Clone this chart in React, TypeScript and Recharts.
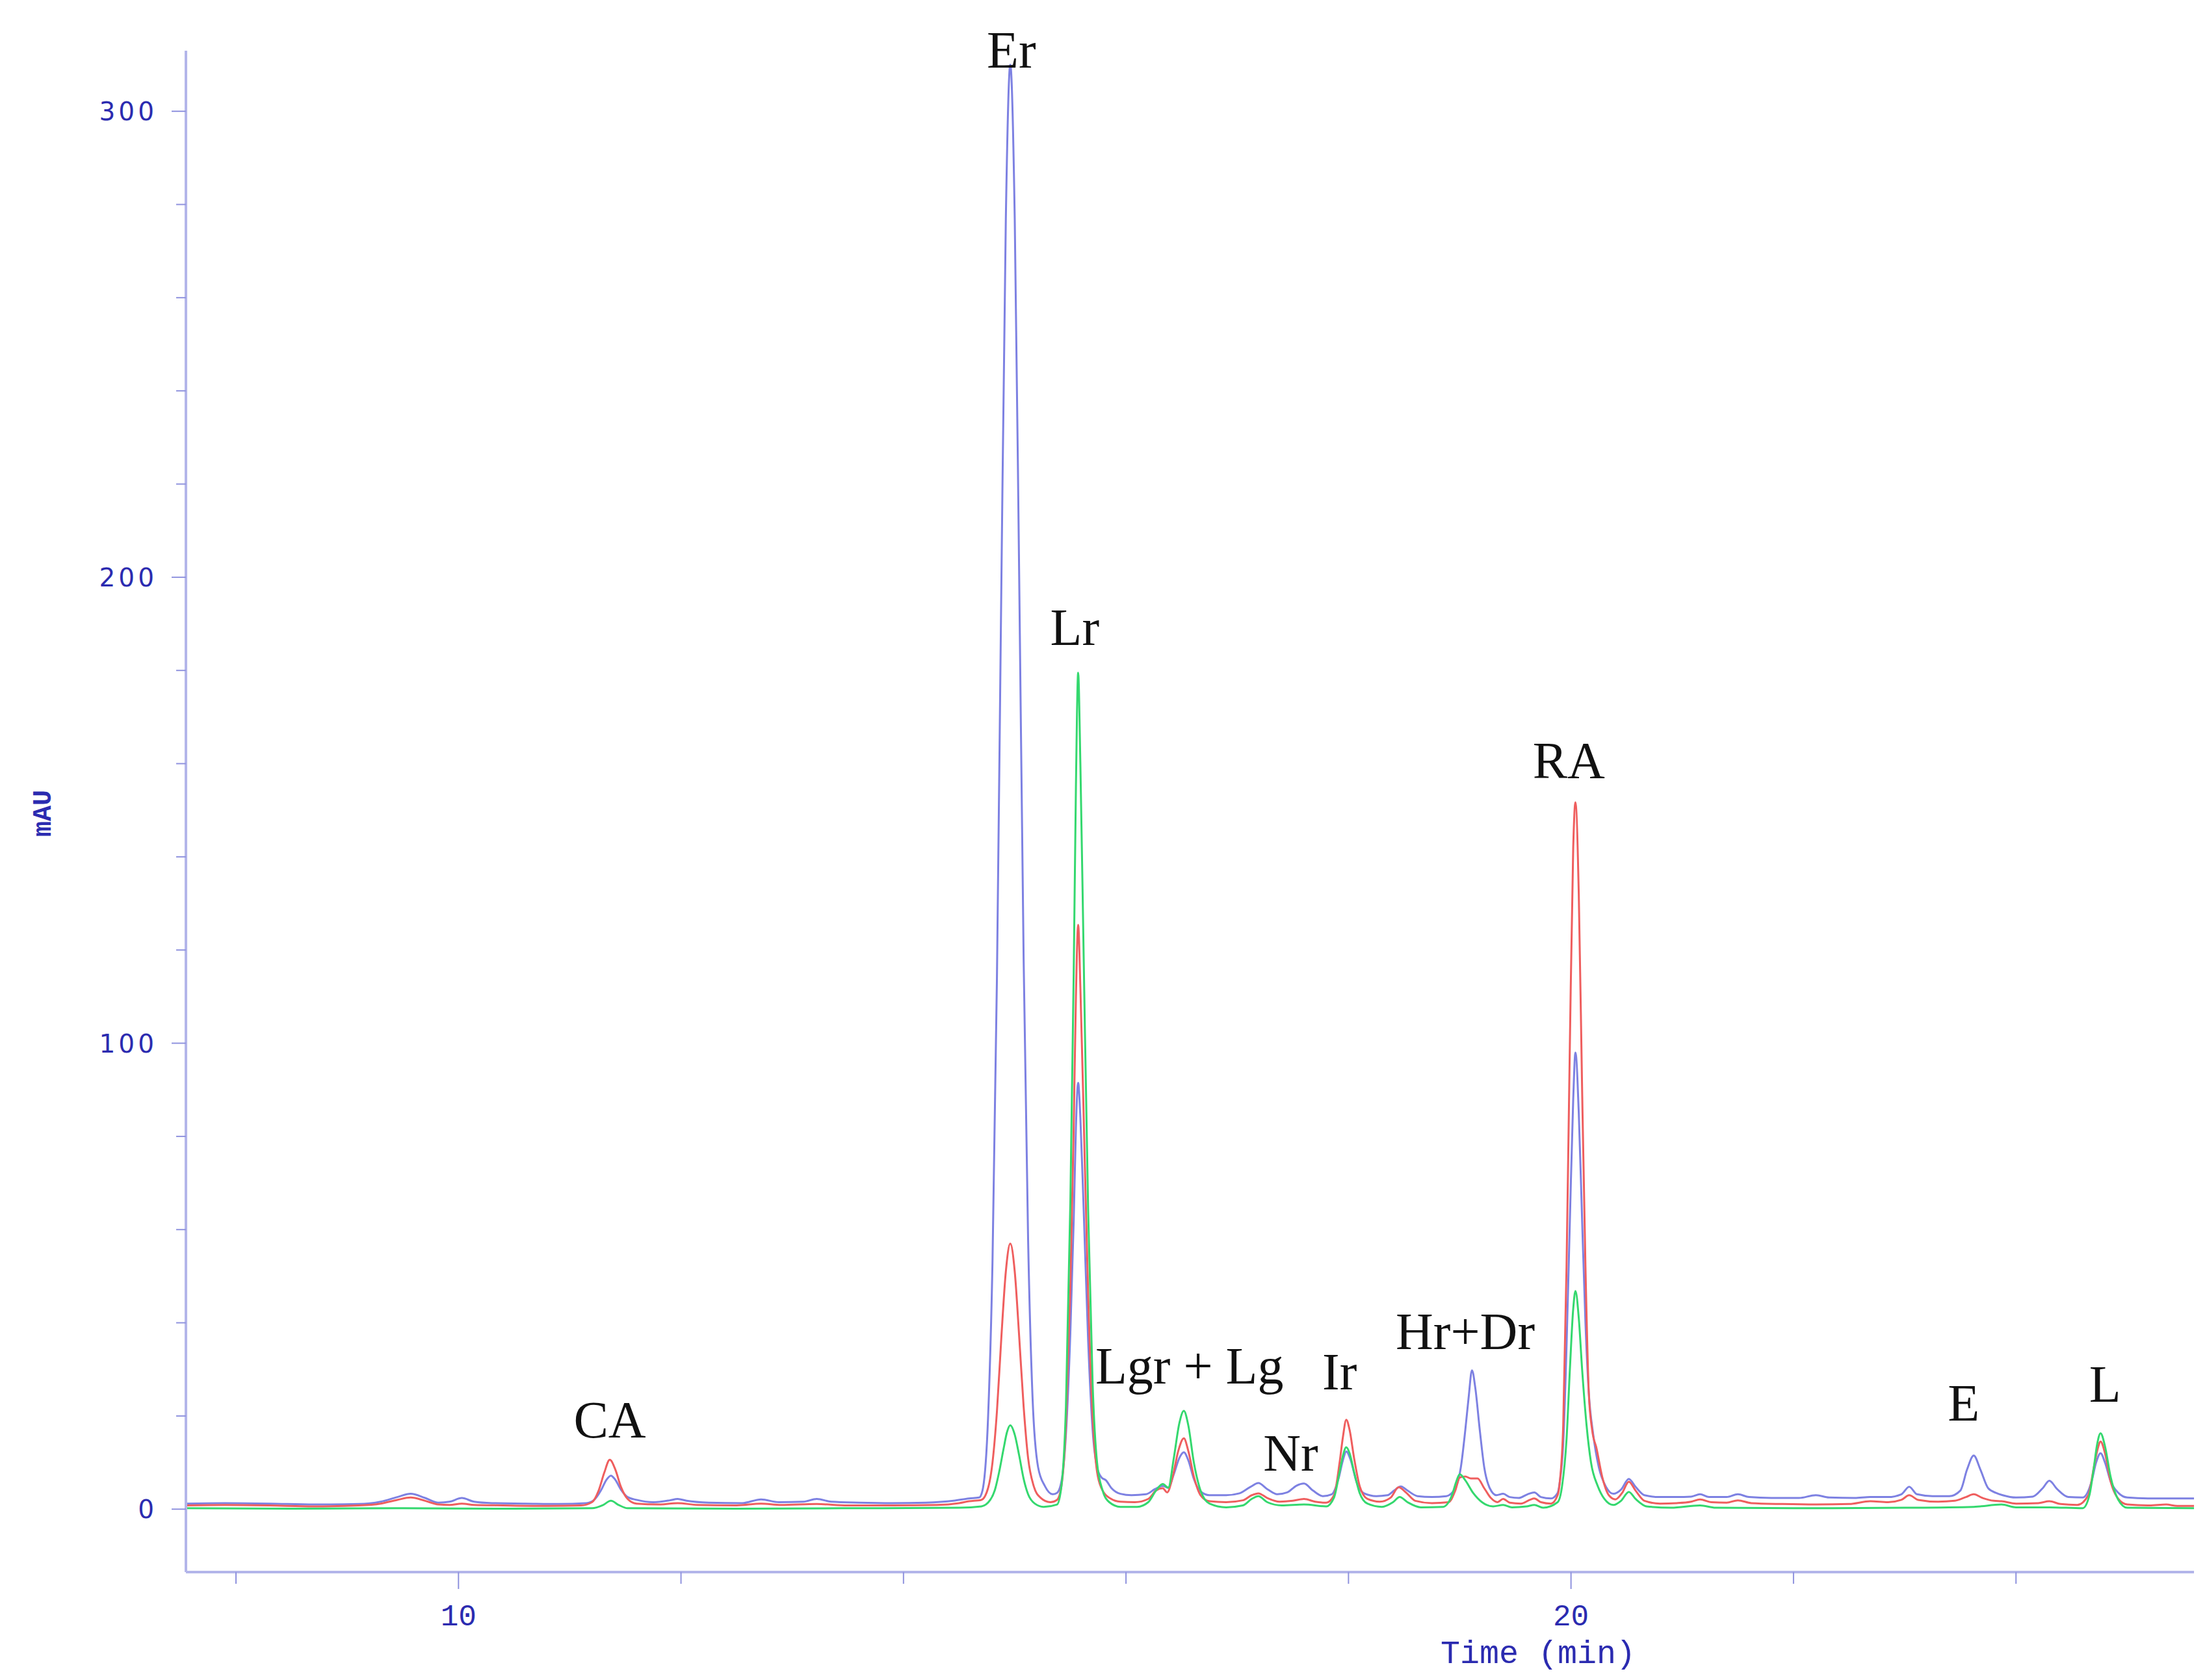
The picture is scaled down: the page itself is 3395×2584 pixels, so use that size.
import { ComposedChart, Line, Scatter, XAxis, YAxis } from "recharts";

type Pt = [number, number];

// chromatogram traces, [time (min), mAU]
const blueTrace: Pt[] = [
  [7.55, 1.2], [7.9, 1.3], [8.3, 1.2], [8.7, 1.0], [9.1, 1.1], [9.3, 1.6], [9.45, 2.6], [9.57, 3.3],
  [9.7, 2.4], [9.82, 1.4], [9.92, 1.6], [10.03, 2.4], [10.14, 1.6], [10.3, 1.3], [10.6, 1.2], [10.9, 1.1],
  [11.15, 1.3], [11.22, 2.0], [11.28, 4.0], [11.33, 6.3], [11.37, 7.2], [11.41, 6.3], [11.46, 4.2],
  [11.52, 2.6], [11.6, 2.0], [11.75, 1.5], [11.9, 1.9], [11.97, 2.2], [12.05, 1.8], [12.25, 1.4],
  [12.55, 1.3], [12.72, 2.1], [12.88, 1.5], [13.1, 1.6], [13.22, 2.2], [13.35, 1.6], [13.6, 1.4],
  [13.9, 1.3], [14.2, 1.4], [14.45, 1.8], [14.59, 2.3], [14.68, 2.5],
  [14.71, 4], [14.76, 19.5], [14.8, 53], [14.84, 114], [14.88, 199], [14.92, 277], [14.96, 310],
  [15.0, 277], [15.04, 200], [15.08, 118], [15.12, 58], [15.16, 24], [15.21, 9], [15.27, 5], [15.34, 3.2],
  [15.38, 3.5], [15.42, 6], [15.46, 16], [15.5, 38], [15.53, 62], [15.55, 82], [15.57, 91.5], [15.59, 84],
  [15.62, 64], [15.66, 36], [15.7, 17], [15.74, 9], [15.78, 6.8], [15.82, 6.2], [15.87, 4.5], [15.95, 3.3],
  [16.05, 3.0], [16.18, 3.2], [16.26, 4.3], [16.33, 5.0], [16.38, 4.6], [16.43, 7.5], [16.48, 11],
  [16.52, 12.2], [16.56, 10.5], [16.61, 6.5], [16.67, 3.8], [16.75, 3.0], [16.9, 3.0], [17.02, 3.4],
  [17.12, 4.8], [17.19, 5.6], [17.27, 4.3], [17.36, 3.2], [17.45, 3.6], [17.53, 5.0], [17.6, 5.5],
  [17.68, 4.0], [17.77, 2.8], [17.85, 3.2], [17.91, 6.5], [17.95, 10.5], [17.98, 12.4], [18.02, 10.5],
  [18.07, 6], [18.14, 3.4], [18.25, 2.8], [18.35, 3.0], [18.41, 4.0], [18.47, 4.9], [18.53, 4.0],
  [18.62, 2.8], [18.75, 2.6], [18.88, 2.8], [18.96, 4.5], [19.01, 9], [19.05, 17], [19.08, 24],
  [19.11, 29.8], [19.14, 26], [19.18, 17], [19.22, 9], [19.27, 4.5], [19.33, 3.0], [19.39, 3.3],
  [19.45, 2.6], [19.53, 2.4], [19.61, 3.2], [19.67, 3.6], [19.73, 2.6], [19.82, 2.3], [19.88, 3.5],
  [19.9, 6], [19.93, 14], [19.96, 35], [19.99, 62], [20.02, 88], [20.04, 98], [20.07, 85], [20.1, 62],
  [20.13, 40], [20.16, 25], [20.2, 16], [20.25, 9], [20.31, 5], [20.38, 3.3], [20.45, 4.2], [20.52, 6.5],
  [20.58, 4.8], [20.66, 3.0], [20.8, 2.6], [20.95, 2.6], [21.08, 2.7], [21.16, 3.2], [21.24, 2.6],
  [21.4, 2.6], [21.5, 3.2], [21.6, 2.6], [21.8, 2.4], [22.05, 2.4], [22.2, 3.0], [22.32, 2.5], [22.55, 2.4],
  [22.69, 2.6], [22.85, 2.6], [22.97, 3.2], [23.04, 4.8], [23.11, 3.2], [23.25, 2.8], [23.4, 2.8],
  [23.5, 4.0], [23.56, 8.5], [23.62, 11.5], [23.68, 8.5], [23.75, 4.5], [23.82, 3.5], [23.88, 3.0],
  [24.0, 2.5], [24.15, 2.7], [24.24, 4.5], [24.3, 6.1], [24.37, 4.3], [24.47, 2.6], [24.6, 2.5],
  [24.68, 6], [24.72, 10], [24.76, 12], [24.8, 10], [24.85, 6], [24.92, 3.5], [25.0, 2.5], [25.2, 2.3],
  [25.6, 2.3],
];

const redTrace: Pt[] = [
  [7.55, 0.8], [7.9, 0.9], [8.3, 0.8], [8.7, 0.6], [9.1, 0.8], [9.3, 1.2], [9.45, 2.0], [9.57, 2.5],
  [9.7, 1.8], [9.82, 1.0], [9.92, 0.9], [10.03, 1.2], [10.14, 0.9], [10.4, 0.8], [10.8, 0.7], [11.1, 0.8],
  [11.2, 1.5], [11.26, 4.0], [11.31, 7.8], [11.36, 10.6], [11.41, 8.5], [11.46, 4.8], [11.52, 2.2],
  [11.6, 1.2], [11.8, 1.0], [11.97, 1.3], [12.15, 0.9], [12.5, 0.8], [12.72, 1.2], [12.9, 0.9],
  [13.22, 1.1], [13.5, 0.8], [13.9, 0.8], [14.3, 0.9], [14.5, 1.3], [14.59, 1.7], [14.7, 2.0],
  [14.76, 4.5], [14.8, 10], [14.84, 21], [14.88, 37], [14.92, 51], [14.96, 57], [15.0, 51], [15.04, 37],
  [15.08, 22], [15.12, 11], [15.17, 5], [15.23, 2.5], [15.32, 1.5],
  [15.38, 2.0], [15.42, 5], [15.46, 18], [15.5, 48], [15.53, 82], [15.55, 110], [15.57, 125.4],
  [15.59, 112], [15.62, 84], [15.66, 46], [15.7, 20], [15.74, 8], [15.79, 4], [15.86, 2.3], [15.95, 1.6],
  [16.08, 1.5], [16.2, 2.2], [16.27, 4.0], [16.33, 4.5], [16.37, 3.6], [16.42, 7], [16.47, 12.5],
  [16.52, 15.2], [16.56, 12.5], [16.61, 7], [16.67, 3], [16.75, 1.7], [16.9, 1.5], [17.05, 1.9],
  [17.13, 3.0], [17.19, 3.4], [17.27, 2.4], [17.38, 1.6], [17.5, 1.8], [17.6, 2.2], [17.7, 1.6],
  [17.8, 1.4], [17.87, 3], [17.92, 10], [17.95, 15.5], [17.98, 19.2], [18.01, 17], [18.05, 11], [18.1, 5],
  [18.17, 2.2], [18.28, 1.6], [18.38, 2.5], [18.45, 4.7], [18.52, 3.5], [18.6, 1.8], [18.75, 1.3],
  [18.9, 1.5], [18.96, 4], [19.0, 6.8], [19.05, 7.0], [19.1, 6.6], [19.16, 6.6], [19.22, 4.5],
  [19.28, 2.4], [19.34, 1.5], [19.39, 2.2], [19.45, 1.4], [19.55, 1.2], [19.63, 2.0], [19.67, 2.3],
  [19.73, 1.5], [19.82, 1.2], [19.88, 3],
  [19.9, 6], [19.93, 18], [19.96, 52], [19.99, 100], [20.02, 142], [20.04, 151.7], [20.07, 132],
  [20.1, 90], [20.13, 52], [20.16, 25], [20.19, 17], [20.23, 13], [20.28, 7], [20.34, 3], [20.4, 2.1],
  [20.46, 3.5], [20.52, 5.9], [20.58, 4.0], [20.66, 1.8], [20.8, 1.2], [20.95, 1.3], [21.08, 1.6],
  [21.16, 2.1], [21.26, 1.5], [21.4, 1.4], [21.5, 1.9], [21.62, 1.3], [21.9, 1.1], [22.2, 1.0],
  [22.5, 1.1], [22.69, 1.7], [22.85, 1.5], [22.97, 2.0], [23.04, 3.0], [23.12, 2.0], [23.3, 1.6],
  [23.45, 1.8], [23.55, 2.6], [23.62, 3.2], [23.7, 2.4], [23.8, 1.8], [23.87, 1.7], [24.0, 1.2],
  [24.2, 1.3], [24.3, 1.7], [24.4, 1.1], [24.55, 0.9], [24.65, 3], [24.7, 9], [24.73, 12.5],
  [24.76, 14.5], [24.8, 12], [24.85, 6], [24.92, 2.2], [25.0, 1.0], [25.2, 0.8], [25.35, 1.0],
  [25.45, 0.7], [25.6, 0.7],
];

const greenTrace: Pt[] = [
  [7.55, 0.2], [8.5, 0.1], [9.5, 0.2], [10.5, 0.1], [11.2, 0.2], [11.3, 0.9], [11.37, 1.8], [11.44, 0.9],
  [11.52, 0.2], [12.5, 0.1], [13.5, 0.2], [14.5, 0.3], [14.7, 0.6],
  [14.78, 2], [14.82, 4], [14.86, 8], [14.9, 13], [14.93, 16.5], [14.96, 18], [15.0, 16], [15.04, 11.5],
  [15.08, 6.5], [15.12, 3.2], [15.18, 1.2], [15.26, 0.5],
  [15.38, 1.0], [15.42, 5], [15.46, 22], [15.5, 66], [15.53, 115], [15.55, 155], [15.57, 179.5],
  [15.59, 160], [15.62, 118], [15.66, 64], [15.7, 27], [15.74, 10], [15.79, 4], [15.85, 1.5],
  [15.95, 0.5], [16.1, 0.5], [16.2, 1.5], [16.27, 4.0], [16.33, 5.4], [16.38, 4.6], [16.43, 11],
  [16.48, 18.5], [16.52, 21.1], [16.56, 18], [16.61, 10], [16.67, 4], [16.75, 1.2], [16.9, 0.4],
  [17.05, 0.8], [17.13, 2.2], [17.19, 2.8], [17.27, 1.5], [17.4, 0.8], [17.6, 1.0], [17.8, 0.6],
  [17.87, 2.5], [17.92, 8], [17.95, 11.5], [17.98, 13.3], [18.01, 12], [18.05, 8], [18.1, 3.5],
  [18.17, 1.2], [18.3, 0.5], [18.4, 1.5], [18.46, 2.6], [18.53, 1.5], [18.65, 0.4], [18.85, 0.5],
  [18.93, 3], [18.97, 6], [19.0, 7.5], [19.05, 6.2], [19.12, 3.5], [19.2, 1.5], [19.3, 0.6], [19.39, 0.9],
  [19.47, 0.4], [19.6, 0.6], [19.67, 0.9], [19.75, 0.3], [19.88, 1.5],
  [19.92, 5], [19.96, 15], [19.99, 30], [20.02, 43], [20.04, 46.8], [20.07, 41], [20.1, 30], [20.14, 18],
  [20.18, 10], [20.24, 5], [20.3, 2.2], [20.38, 0.9], [20.45, 1.8], [20.52, 3.7], [20.58, 2.2],
  [20.68, 0.6], [20.9, 0.3], [21.16, 0.8], [21.3, 0.3], [22.0, 0.2], [23.0, 0.3], [23.62, 0.5],
  [23.87, 1.0], [24.0, 0.4], [24.3, 0.4], [24.6, 0.2], [24.66, 3], [24.7, 9], [24.73, 14], [24.76, 16.3],
  [24.8, 13.5], [24.85, 7], [24.92, 2], [25.0, 0.3], [25.6, 0.2],
];

// peak annotations: name, retention time, text baseline level (mAU)
const peakNames = ["CA", "Er", "Lr", "Lgr + Lg", "Nr", "Ir", "Hr+Dr", "RA", "E", "L"];
const peakTimes = [11.36, 14.97, 15.54, 16.57, 17.48, 17.92, 19.05, 19.98, 23.53, 24.8];
const peakLabelLevels = [15.4, 309.4, 185.5, 26.9, 8.2, 25.7, 34.4, 156.8, 19.0, 23.0];

const timeTicks = [8, 10, 12, 14, 16, 18, 20, 22, 24];
const timeLabels = [10, 20];
const mauTicks = [0, 20, 40, 60, 80, 100, 120, 140, 160, 180, 200, 220, 240, 260, 280, 300];
const mauLabels = [0, 100, 200, 300];

const W = 3395;
const H = 2584;
const AXIS = "#b3b5ea";
const TICK = "#8f92de";
const INK = "#2b2bb0";

const toRows = (pts: Pt[]) => pts.map(([t, v]) => ({ t, v }));
const labelRows = peakNames.map((name, i) => ({ t: peakTimes[i], v: peakLabelLevels[i], name }));

function TimeTick({ x, y, payload }: any) {
  const major = timeLabels.includes(payload.value);
  return (
    <g>
      <line x1={x} x2={x} y1={y} y2={y + (major ? 26 : 18)} stroke={TICK} strokeWidth={2} />
      {major && (
        <text x={x} y={y + 82} textAnchor="middle" fill={INK} fontFamily="Liberation Mono" fontSize={46}>
          {payload.value}
        </text>
      )}
    </g>
  );
}

function MauTick({ x, y, payload }: any) {
  const major = mauLabels.includes(payload.value);
  return (
    <g>
      <line x1={x - (major ? 22 : 15)} x2={x} y1={y} y2={y} stroke={TICK} strokeWidth={2} />
      {major && (
        <text
          x={x - 44}
          y={y + 14}
          textAnchor="end"
          fill={INK}
          fontFamily="DejaVu Sans"
          fontSize={39}
          letterSpacing={5}
        >
          {payload.value}
        </text>
      )}
    </g>
  );
}

function PeakLabel({ cx, cy, payload }: any) {
  return (
    <text x={cx} y={cy} textAnchor="middle" fill="#111" fontFamily="Liberation Serif" fontSize={80}>
      {payload.name}
    </text>
  );
}

export default function App() {
  return (
    <div style={{ position: "absolute", left: 0, top: 0, width: W, height: H, background: "#fff" }}>
      <ComposedChart width={W} height={H} margin={{ top: 78, right: 20, bottom: 0, left: 0 }}>
        <XAxis
          type="number"
          dataKey="t"
          domain={[7.55, 25.6]}
          ticks={timeTicks}
          height={166}
          tickSize={0}
          tickMargin={0}
          tickLine={false}
          axisLine={{ stroke: AXIS, strokeWidth: 4 }}
          tick={<TimeTick />}
          interval={0}
          label={{
            content: () => (
              <text x={2366} y={2558} textAnchor="middle" fill={INK} fontFamily="Liberation Mono" fontSize={50}>
                Time (min)
              </text>
            ),
          }}
        />
        <YAxis
          type="number"
          dataKey="v"
          domain={[-13.5, 313]}
          ticks={mauTicks}
          width={286}
          tickSize={0}
          tickMargin={0}
          tickLine={false}
          axisLine={{ stroke: AXIS, strokeWidth: 4 }}
          tick={<MauTick />}
          interval={0}
          label={{
            content: () => (
              <text
                x={78}
                y={1251}
                transform="rotate(-90 78 1251)"
                textAnchor="middle"
                fill={INK}
                fontFamily="Liberation Mono"
                fontWeight="bold"
                fontSize={40}
              >
                mAU
              </text>
            ),
          }}
        />
        <Line data={toRows(blueTrace)} dataKey="v" type="monotone" stroke="#7d81e2" strokeWidth={3} dot={false} isAnimationActive={false} />
        <Line data={toRows(redTrace)} dataKey="v" type="monotone" stroke="#ef5e5e" strokeWidth={3} dot={false} isAnimationActive={false} />
        <Line data={toRows(greenTrace)} dataKey="v" type="monotone" stroke="#34d86e" strokeWidth={3} dot={false} isAnimationActive={false} />
        <Scatter data={labelRows} dataKey="v" shape={<PeakLabel />} isAnimationActive={false} />
      </ComposedChart>
    </div>
  );
}
